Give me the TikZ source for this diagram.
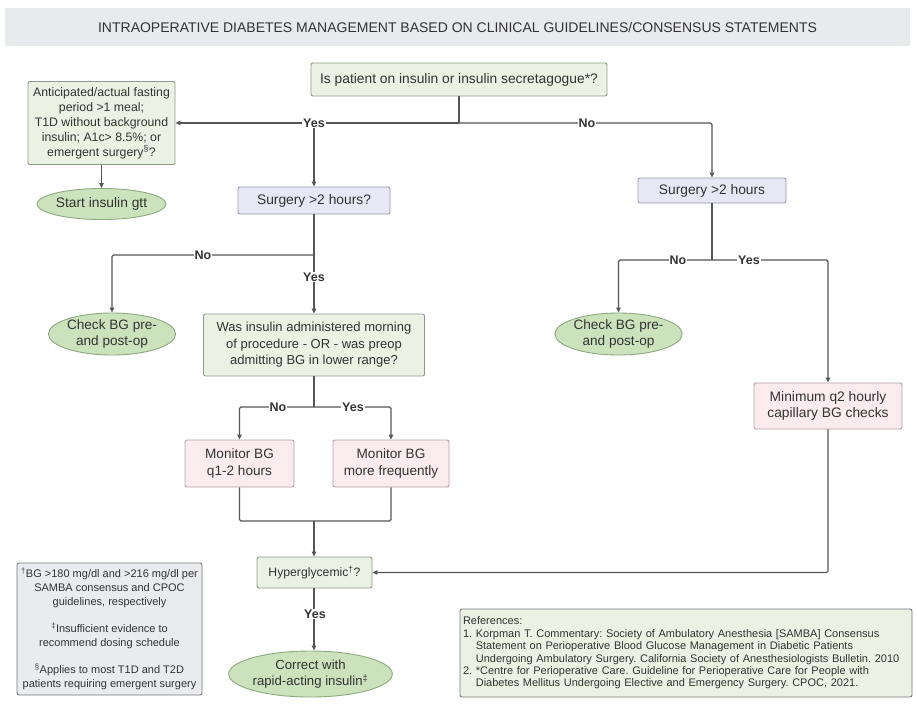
\documentclass[tikz,border=0pt]{standalone}
\usepackage{fontspec}
\setmainfont{Liberation Sans}
\frenchspacing
\usetikzlibrary{shapes.geometric,arrows.meta}
\definecolor{txt}{HTML}{333333}
\definecolor{lin}{HTML}{555555}
\definecolor{gfill}{HTML}{EBF2E4}
\definecolor{gdraw}{HTML}{8E9A88}
\definecolor{efill}{HTML}{CBE2BC}
\definecolor{edraw}{HTML}{8CAA7E}
\definecolor{lfill}{HTML}{E7E7F6}
\definecolor{ldraw}{HTML}{9A9AB2}
\definecolor{pfill}{HTML}{FAEBEF}
\definecolor{pdraw}{HTML}{B3A3A8}
\definecolor{tfill}{HTML}{E9EAED}
\definecolor{ffill}{HTML}{EAEBEE}
\tikzset{
  base/.style={align=center, text=txt, font=\fontsize{13.8}{16.5}\selectfont, inner sep=2pt, line width=0.9pt},
  gbox/.style={base, rectangle, rounded corners=2pt, fill=gfill, draw=gdraw},
  lbox/.style={base, rectangle, rounded corners=2pt, fill=lfill, draw=ldraw},
  pbox/.style={base, rectangle, rounded corners=2pt, fill=pfill, draw=pdraw},
  term/.style={base, ellipse, fill=efill, draw=edraw, inner sep=0pt},
  conn/.style={draw=lin, line width=1.1pt, rounded corners=1.5pt},
  arr/.style={conn, -{Triangle[length=5pt,width=4.5pt]}},
  lab/.style={fill=white, text=txt, font=\bfseries\fontsize{12.5}{14}\selectfont, inner sep=1pt}
}
\begin{document}
\begin{tikzpicture}[x=1pt,y=-1pt]
\useasboundingbox (0,0) rectangle (917,705);
\fill[white] (0,0) rectangle (917,705);
% title
\node[fill=tfill, minimum width=905pt, minimum height=38pt, text=txt, font=\fontsize{14}{16}\selectfont, inner sep=0pt] (title) at (457.5,27) {INTRAOPERATIVE DIABETES MANAGEMENT BASED ON CLINICAL GUIDELINES/CONSENSUS STATEMENTS};
% nodes
\node[gbox, minimum width=296pt, minimum height=33pt] (q1) at (459,79.5) {Is patient on insulin or insulin secretagogue*?};
\node[gbox, minimum width=147pt, minimum height=83pt, font=\fontsize{12.3}{15}\selectfont] (fast) at (101.5,123) {Anticipated/actual fasting\\period >1 meal;\\T1D without background\\insulin; A1c> 8.5\%; or\\emergent surgery\textsuperscript{§}?};
\node[term, minimum width=127pt, minimum height=31pt] (gtt) at (101.5,204) {Start insulin gtt};
\node[lbox, minimum width=152pt, minimum height=27pt] (s2l) at (314,200.5) {Surgery >2 hours?};
\node[term, minimum width=126pt, minimum height=42pt, font=\fontsize{13.6}{16}\selectfont] (chkL) at (112,334) {Check BG pre-\\and post-op};
\node[gbox, minimum width=221pt, minimum height=62pt, font=\fontsize{13}{16.5}\selectfont] (was) at (314,345) {Was insulin administered morning\\of procedure - OR - was preop\\admitting BG in lower range?};
\node[pbox, minimum width=109pt, minimum height=47pt, font=\fontsize{13.6}{16.5}\selectfont] (monA) at (239.5,463.5) {Monitor BG\\q1-2 hours};
\node[pbox, minimum width=116pt, minimum height=47pt, font=\fontsize{13.6}{16.5}\selectfont] (monB) at (391,463.5) {Monitor BG\\more frequently};
\node[gbox, minimum width=115pt, minimum height=31pt, font=\fontsize{12.2}{14}\selectfont] (hyper) at (314.5,572.5) {Hyperglycemic\textsuperscript{†}?};
\node[term, minimum width=153pt, minimum height=46pt, font=\fontsize{13.2}{16.5}\selectfont] (corr) at (310.5,674) {Correct with\\rapid-acting insulin\textsuperscript{‡}};
\node[lbox, minimum width=148pt, minimum height=25pt] (s2r) at (712,190.5) {Surgery >2 hours};
\node[term, minimum width=123pt, minimum height=42pt, font=\fontsize{13.6}{16}\selectfont] (chkR) at (618.5,334) {Check BG pre-\\and post-op};
\node[pbox, minimum width=148pt, minimum height=46pt, font=\fontsize{13.8}{16.5}\selectfont] (minq) at (828,406) {Minimum q2 hourly\\capillary BG checks};
\node[base, rectangle, rounded corners=2pt, fill=ffill, draw=lin!80, minimum width=185pt, minimum height=132pt, font=\fontsize{11}{14}\selectfont, inner sep=1pt] (foot) at (109.5,629) {\textsuperscript{†}BG >180 mg/dl and >216 mg/dl per\\SAMBA consensus and CPOC\\guidelines, respectively\\[13pt]\textsuperscript{‡}Insufficient evidence to\\recommend dosing schedule\\[13pt]\textsuperscript{§}Applies to most T1D and T2D\\patients requiring emergent surgery};
\node[gbox, draw=lin!80, minimum width=452pt, minimum height=88pt, text width=446pt, align=left, font=\fontsize{11}{12.4}\selectfont, inner sep=3pt] (refs) at (686,653) {References:\\1. Korpman T. Commentary: Society of Ambulatory Anesthesia [SAMBA] Consensus\\\hphantom{1. }Statement on Perioperative Blood Glucose Management in Diabetic Patients\\\hphantom{1. }Undergoing Ambulatory Surgery. California Society of Anesthesiologists Bulletin. 2010\\2. *Centre for Perioperative Care. Guideline for Perioperative Care for People with\\\hphantom{2. }Diabetes Mellitus Undergoing Elective and Emergency Surgery. CPOC, 2021.};
% junctions
\coordinate (j1) at (459,123);
\coordinate (j1y) at (314,123);
\coordinate (j2) at (314,255);
\coordinate (j3) at (314,407);
\coordinate (j4) at (314,521);
\coordinate (j5) at (712,260);
% connectors
\draw[conn] (q1.south) -- (j1);
\draw[arr] (j1) -- (fast.east);
\draw[arr] (j1y) -- (j1y |- s2l.north);
\draw[arr] (j1) -| (s2r.north);
\draw[arr] (fast.south) -- (gtt.north);
\draw[conn] (s2l.south -| j2) -- (j2);
\draw[arr] (j2) -| (chkL.north);
\draw[arr] (j2) -- (j2 |- was.north);
\draw[conn] (was.south -| j3) -- (j3);
\draw[arr] (j3) -| (monA.north);
\draw[arr] (j3) -| (monB.north);
\draw[conn] (monA.south) |- (j4);
\draw[conn] (monB.south) |- (j4);
\draw[arr] (j4) -- (j4 |- hyper.north);
\draw[arr] (hyper.south -| j4) -- (j4 |- corr.north);
\draw[conn] (s2r.south) -- (j5);
\draw[arr] (j5) -| (chkR.north);
\draw[arr] (j5) -| (minq.north);
\draw[arr] (minq.south) |- (hyper.east);
% labels
\node[lab] (y1) at (314,123) {Yes};
\node[lab] (n1) at (587,123) {No};
\node[lab] (n2) at (203,255) {No};
\node[lab] (y2) at (314,277) {Yes};
\node[lab] (n3) at (278,407) {No};
\node[lab] (y3) at (353,407) {Yes};
\node[lab] (y4) at (315,614) {Yes};
\node[lab] (n4) at (678,260) {No};
\node[lab] (y5) at (749,260) {Yes};
\end{tikzpicture}
\end{document}
